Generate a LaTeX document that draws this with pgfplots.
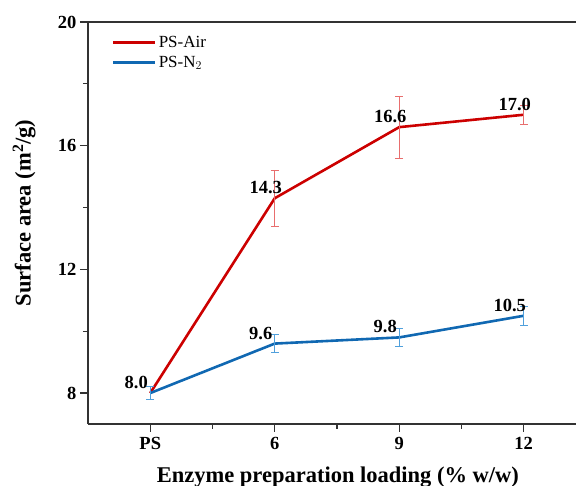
\documentclass[border=0pt]{standalone}
\usepackage{fontspec}
\setmainfont{Liberation Serif}
\usepackage{pgfplots}
\usepackage{pgfplotstable}
\pgfplotsset{compat=1.18}
\definecolor{airred}{RGB}{204,0,0}
\definecolor{airlight}{RGB}{232,110,110}
\definecolor{nblue}{RGB}{16,104,178}
\definecolor{nlight}{RGB}{80,160,220}
\definecolor{axgray}{RGB}{50,50,50}
\pgfplotstableread{
x y e lab
0 8.0 0.2 {}
1 14.3 0.9 14.3
2 16.6 1.0 16.6
3 17.0 0.3 17.0
}\airtab
\pgfplotstableread{
x y e lab
0 8.0 0.2 8.0
1 9.6 0.3 9.6
2 9.8 0.3 9.8
3 10.5 0.3 10.5
}\ntab
\begin{document}
\begin{tikzpicture}
\begin{axis}[
  at={(0,0)}, anchor=south west,
  scale only axis, width=488pt, height=402pt,
  xmin=-0.5, xmax=3.42, ymin=7, ymax=20,
  axis x line*=box, axis y line*=left,
  axis line style={line width=1.4pt, color=axgray},
  xtick={0,1,2,3}, xticklabels={PS,6,9,12},
  minor xtick={0.5,1.5,2.5},
  ytick={8,12,16,20}, minor ytick={10,14,18},
  xtick pos=left, ytick pos=left,
  tick align=outside,
  major tick length=8pt, minor tick length=5pt,
  every tick/.style={line width=1.2pt, color=axgray},
  /pgf/number format/assume math mode=true,
  ticklabel style={font=\fontsize{18.5}{22}\selectfont\bfseries},
  xticklabel style={yshift=-2pt},
  xlabel={Enzyme preparation loading (\% w/w)},
  ylabel={Surface area (m\textsuperscript{2}/g)},
  label style={font=\fontsize{22.5}{27}\selectfont\bfseries},
  xlabel style={at={(axis description cs:0.512,-0.146)}, anchor=base},
  ylabel style={at={(axis description cs:-0.131,0.525)}, anchor=center},
  legend style={at={(axis description cs:0.045,0.975)}, anchor=north west, draw=none, fill=none,
    font=\fontsize{17}{20}\selectfont, row sep=3pt, inner sep=2pt},
  legend cell align=left,
  legend image code/.code={\draw[#1, line width=2.6pt] (0pt,0pt) -- (42pt,0pt);},
  point meta=explicit symbolic,
  nodes near coords,
  every node near coord/.append style={font=\fontsize{18.5}{22}\selectfont\bfseries, text=black, anchor=base, yshift=4.5pt, xshift=-9pt},
  clip=false,
]
\addplot[airred, line width=2.6pt, mark=none,
  error bars/.cd, y dir=both, y explicit,
  error bar style={line width=0.8pt, color=airlight},
  error mark options={rotate=90, mark size=4pt, line width=0.8pt, color=airlight}]
  table[x=x, y=y, y error=e, meta=lab] {\airtab};
\addlegendentry{PS-Air}
\addplot[nblue, line width=2.6pt, mark=none,
  nodes near coords style={xshift=-5pt},
  error bars/.cd, y dir=both, y explicit,
  error bar style={line width=0.8pt, color=nlight},
  error mark options={rotate=90, mark size=4pt, line width=0.8pt, color=nlight}]
  table[x=x, y=y, y error=e, meta=lab] {\ntab};
\addlegendentry{PS-N$_2$}
\end{axis}
\pgfresetboundingbox
\path (-88pt,-62pt) rectangle (488pt,424pt);
\end{tikzpicture}
\end{document}
